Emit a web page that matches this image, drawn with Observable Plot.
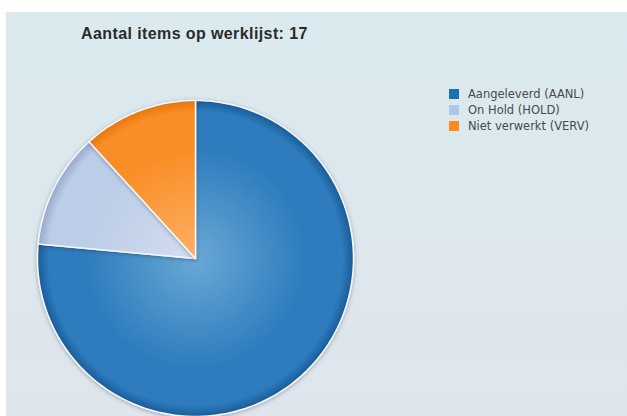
<!DOCTYPE html>
<html>
<head>
<meta charset="utf-8">
<script src="https://cdn.jsdelivr.net/npm/d3@7"></script>
<script src="https://cdn.jsdelivr.net/npm/@observablehq/plot@0.6"></script>
<style>
  html, body { margin: 0; padding: 0; background: #ffffff; width: 627px; height: 416px; overflow: hidden; }
  #panel { position: absolute; left: 6px; top: 12px; width: 621px; height: 404px;
    background: linear-gradient(#daeaef, #dfe5ec); }
  #title { position: absolute; left: 81px; top: 25px; font: bold 16px "Liberation Sans", Arial, sans-serif;
    color: #2b2b2b; letter-spacing: 0.4px; white-space: nowrap; }
  #legend { position: absolute; left: 449px; top: 86px; font: 11.5px "DejaVu Sans", Verdana, sans-serif; color: #4a4a4a; }
  .item { display: flex; align-items: center; height: 16px; white-space: nowrap; }
  .sw { width: 10px; height: 10px; margin-right: 9px; }
  #chart { position: absolute; left: 0; top: 0; }
</style>
</head>
<body>
<div id="panel"></div>
<div id="chart"></div>
<div id="title"></div>
<div id="legend"></div>
<script>
const title = "Aantal items op werklijst: 17";
const categories = ["Aangeleverd (AANL)", "On Hold (HOLD)", "Niet verwerkt (VERV)"];
const values = [13, 2, 2];
const swatchColors = ["#1f6fb4", "#aec6e8", "#fb8a1c"];
// gradient stops per slice: center, mid, rim
const gradColors = [
  ["#69a8d6", "#2d7cbd", "#1a5b98"],
  ["#d3deef", "#bccde7", "#95a9cd"],
  ["#fdb064", "#f98d25", "#e6760e"]
];

document.getElementById("title").textContent = title;
const legend = document.getElementById("legend");
categories.forEach((c, i) => {
  const it = document.createElement("div"); it.className = "item";
  const sw = document.createElement("div"); sw.className = "sw"; sw.style.background = swatchColors[i];
  const tx = document.createElement("span"); tx.textContent = c;
  it.appendChild(sw); it.appendChild(tx); legend.appendChild(it);
});

const W = 627, H = 416, R = 158, CX = 195, CY = 258;
const arcs = d3.pie().sort(null).startAngle(0).endAngle(2 * Math.PI)(values);
const slices = arcs.map((a, i) => {
  const pts = [{x: 0, y: 0}];
  const n = Math.max(2, Math.ceil((a.endAngle - a.startAngle) / (Math.PI / 180)));
  for (let k = 0; k <= n; k++) {
    const t = a.startAngle + (a.endAngle - a.startAngle) * k / n;
    pts.push({x: Math.sin(t), y: Math.cos(t)});
  }
  pts.push({x: 0, y: 0});
  return {i, pts};
});

const plot = Plot.plot({
  width: W, height: H,
  margin: 0,
  x: {domain: [-CX / R, (W - CX) / R], range: [0, W], axis: null},
  y: {domain: [-(H - CY) / R, CY / R], range: [H, 0], axis: null},
  style: {background: "transparent", overflow: "visible"},
  marks: slices.map(s => Plot.line(s.pts, {
    x: "x", y: "y", fill: `url(#g${s.i})`, stroke: "#f4f8fb", strokeWidth: 1.5,
    strokeLinejoin: "round", curve: "linear-closed"
  }))
});

const cx = plot.scale("x").apply(0), cy = plot.scale("y").apply(0);
const r = plot.scale("x").apply(1) - cx;
const ns = "http://www.w3.org/2000/svg";
const defs = document.createElementNS(ns, "defs");
const filt = document.createElementNS(ns, "filter");
filt.setAttribute("id", "sh"); filt.setAttribute("x", "-20%"); filt.setAttribute("y", "-20%");
filt.setAttribute("width", "140%"); filt.setAttribute("height", "140%");
filt.innerHTML = '<feDropShadow dx="0" dy="1" stdDeviation="2" flood-color="#000" flood-opacity="0.3"/>';
defs.appendChild(filt);
gradColors.forEach((cs, i) => {
  const g = document.createElementNS(ns, "radialGradient");
  g.setAttribute("id", "g" + i);
  g.setAttribute("gradientUnits", "userSpaceOnUse");
  g.setAttribute("cx", cx); g.setAttribute("cy", cy); g.setAttribute("r", r);
  g.setAttribute("fx", cx); g.setAttribute("fy", cy);
  [[0, cs[0]], [0.7, cs[1]], [0.93, cs[1]], [1, cs[2]]].forEach(([o, c]) => {
    const st = document.createElementNS(ns, "stop");
    st.setAttribute("offset", o); st.setAttribute("stop-color", c);
    g.appendChild(st);
  });
  defs.appendChild(g);
});
plot.insertBefore(defs, plot.firstChild);
plot.querySelectorAll("g[aria-label='line']").forEach(g => g.setAttribute("filter", "url(#sh)"));
document.getElementById("chart").appendChild(plot);
</script>
</body>
</html>
